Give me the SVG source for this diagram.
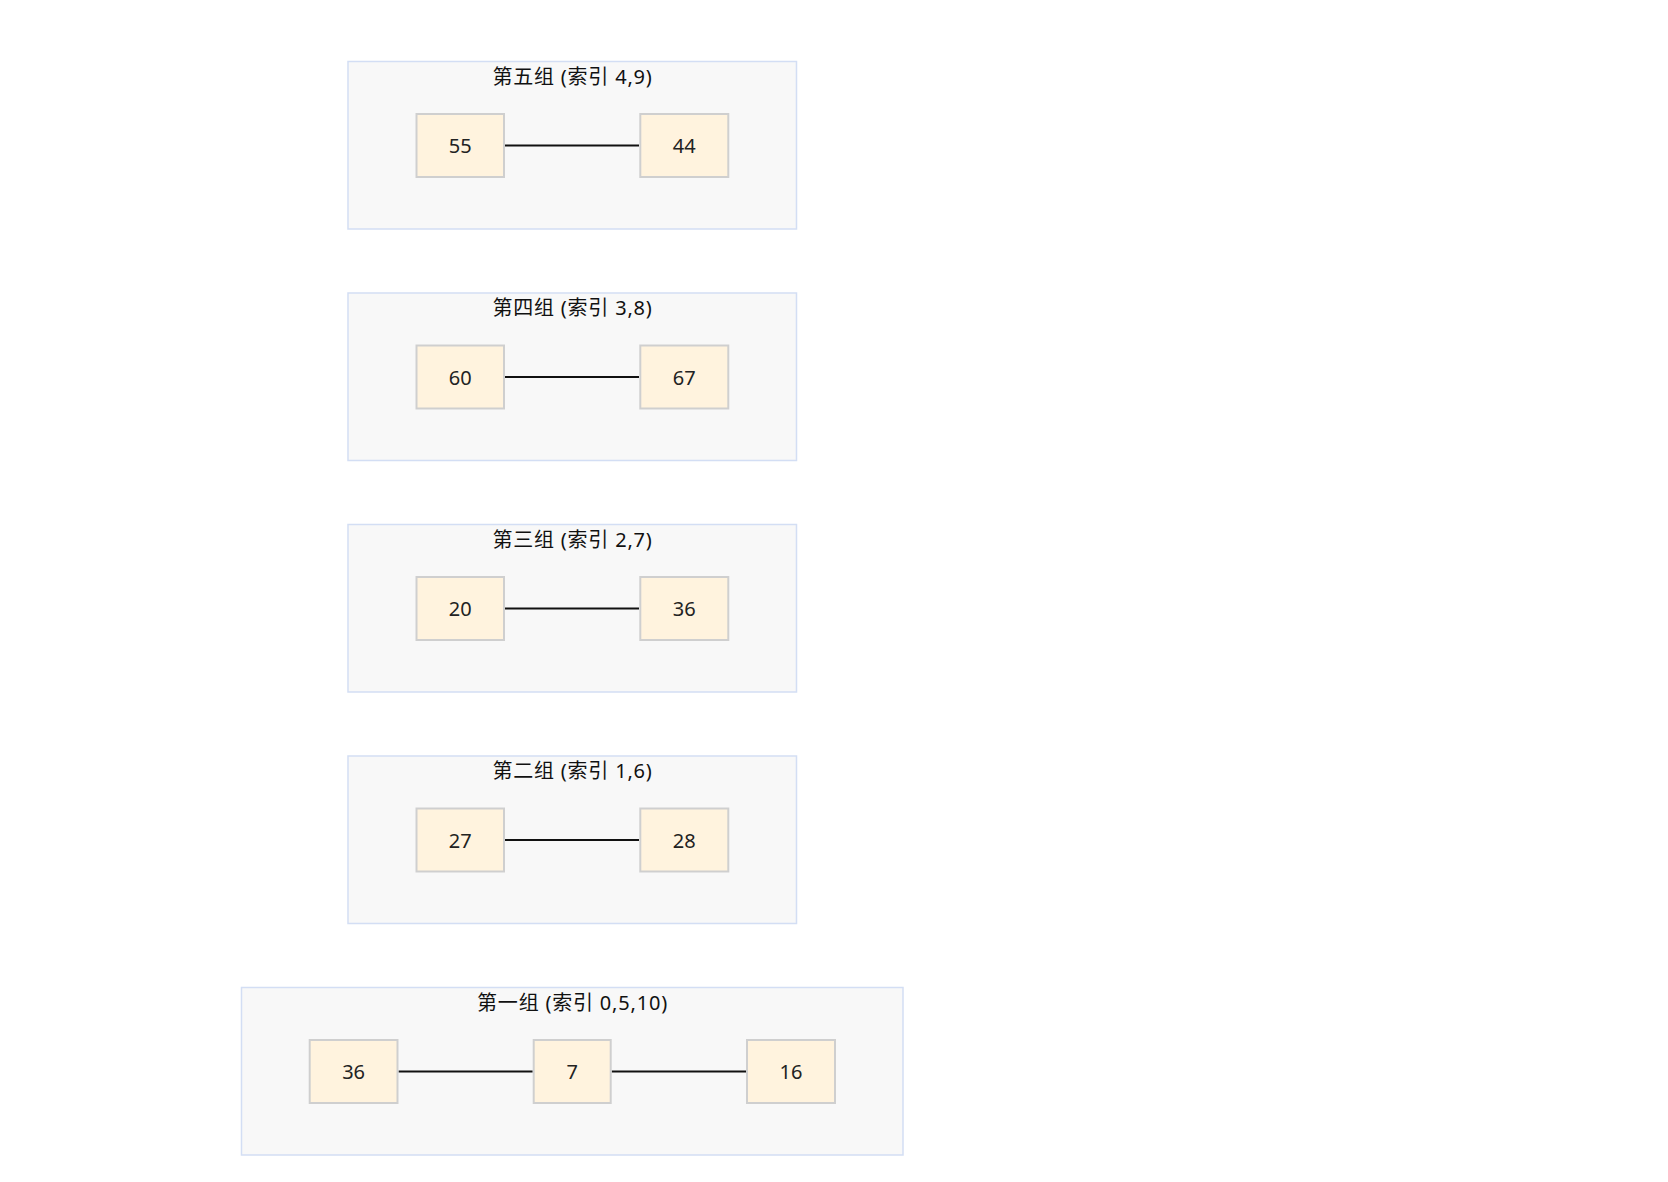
<svg xmlns="http://www.w3.org/2000/svg" width="1668" height="1182" viewBox="0 0 1668 1182">
<style>
.grp{fill:#f8f8f8;stroke:#d3def4;stroke-width:1.5}
.node{fill:#fff3de;stroke:#cfcfcf;stroke-width:2}
.title{font-family:"Noto Sans","Noto Sans CJK SC",sans-serif;font-size:20px;letter-spacing:0.8px;fill:#111;text-anchor:middle;dominant-baseline:central}
.lbl{font-family:"Noto Sans","Noto Sans CJK SC",sans-serif;font-size:20px;fill:#222;text-anchor:middle;dominant-baseline:central}
.edge{stroke:#111;stroke-width:2;fill:none}
</style>
<rect width="1668" height="1182" fill="#ffffff"/>
<g id="group5">
<rect class="grp" x="348" y="61.5" width="448.5" height="167.5"/>
<text class="title" x="572.5" y="76">第五组 (索引 4,9)</text>
</g>
<g id="group4">
<rect class="grp" x="348" y="293" width="448.5" height="167.5"/>
<text class="title" x="572.5" y="307.5">第四组 (索引 3,8)</text>
</g>
<g id="group3">
<rect class="grp" x="348" y="524.5" width="448.5" height="167.5"/>
<text class="title" x="572.5" y="539">第三组 (索引 2,7)</text>
</g>
<g id="group2">
<rect class="grp" x="348" y="756" width="448.5" height="167.5"/>
<text class="title" x="572.5" y="770.5">第二组 (索引 1,6)</text>
</g>
<g id="group1">
<rect class="grp" x="241.5" y="987.5" width="661.5" height="167.5"/>
<text class="title" x="572.5" y="1002">第一组 (索引 0,5,10)</text>
</g>
<g id="connectors">
<line class="edge" x1="505" y1="145.5" x2="639" y2="145.5"/>
<line class="edge" x1="505" y1="377" x2="639" y2="377"/>
<line class="edge" x1="505" y1="608.5" x2="639" y2="608.5"/>
<line class="edge" x1="505" y1="840" x2="639" y2="840"/>
<line class="edge" x1="398.5" y1="1071.5" x2="532.7" y2="1071.5"/>
<line class="edge" x1="611.7" y1="1071.5" x2="746" y2="1071.5"/>
</g>
<g id="n55"><rect class="node" x="416.5" y="114" width="87.5" height="63"/><text class="lbl" x="460.3" y="145.5">55</text></g>
<g id="n44"><rect class="node" x="640.3" y="114" width="88" height="63"/><text class="lbl" x="684.3" y="145.5">44</text></g>
<g id="n60"><rect class="node" x="416.5" y="345.5" width="87.5" height="63"/><text class="lbl" x="460.3" y="377">60</text></g>
<g id="n67"><rect class="node" x="640.3" y="345.5" width="88" height="63"/><text class="lbl" x="684.3" y="377">67</text></g>
<g id="n20"><rect class="node" x="416.5" y="577" width="87.5" height="63"/><text class="lbl" x="460.3" y="608.5">20</text></g>
<g id="n36a"><rect class="node" x="640.3" y="577" width="88" height="63"/><text class="lbl" x="684.3" y="608.5">36</text></g>
<g id="n27"><rect class="node" x="416.5" y="808.5" width="87.5" height="63"/><text class="lbl" x="460.3" y="840">27</text></g>
<g id="n28"><rect class="node" x="640.3" y="808.5" width="88" height="63"/><text class="lbl" x="684.3" y="840">28</text></g>
<g id="n36b"><rect class="node" x="309.7" y="1040" width="87.8" height="63"/><text class="lbl" x="353.6" y="1071.5">36</text></g>
<g id="n7"><rect class="node" x="533.7" y="1040" width="77" height="63"/><text class="lbl" x="572.2" y="1071.5">7</text></g>
<g id="n16"><rect class="node" x="747" y="1040" width="88" height="63"/><text class="lbl" x="791" y="1071.5">16</text></g>
</svg>
